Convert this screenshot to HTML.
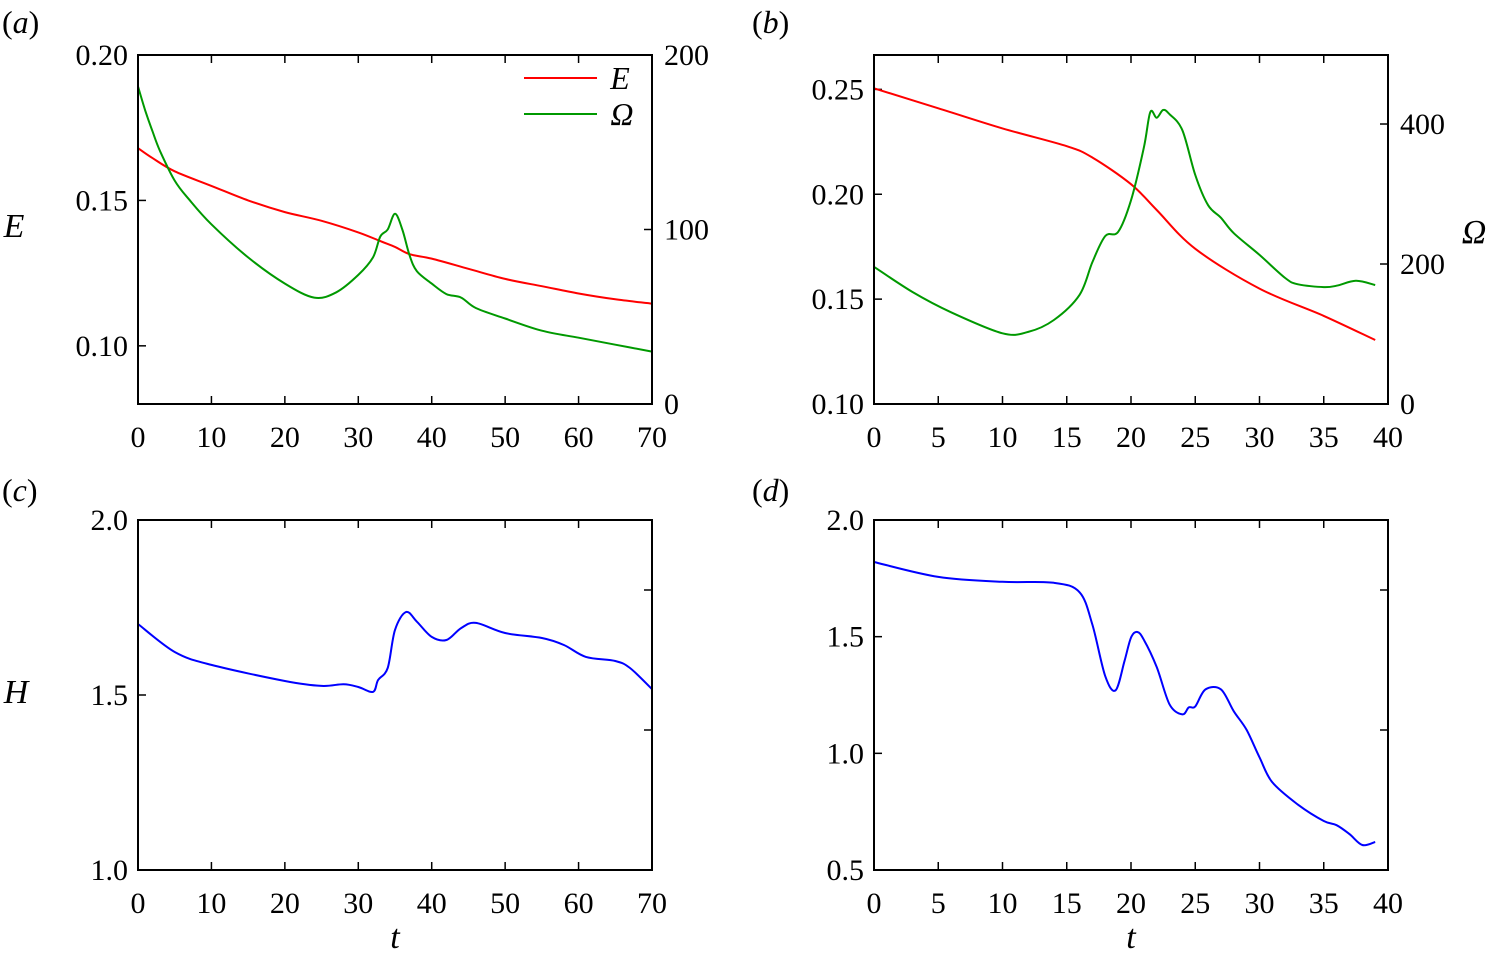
<!DOCTYPE html>
<html><head><meta charset="utf-8"><style>
body{margin:0;background:#fff}
svg{display:block;font-family:"Liberation Serif",serif}
</style></head><body>
<svg id="fig" width="1491" height="961" viewBox="0 0 1491 961" xmlns="http://www.w3.org/2000/svg"></svg>
<script>
const aT=[0,2,5,10,15,20,25,30,33,35,37,40,45,50,55,60,65,70];
const aE=[0.168,0.1645,0.160,0.155,0.150,0.146,0.143,0.139,0.136,0.134,0.1315,0.130,0.1265,0.123,0.1205,0.118,0.116,0.1145];
const aOT=[0,1,2,3,5,7,10,15,20,24,27,30,32,33,34,35,36,37,38,40,42,44,46,50,55,60,65,70];
const aO=[182,168,156,145,128,117,103,84,69,61,64,74,84,96,100,109,100,85,76,69,63,61,55,49,42,38,34,30];
const bT=[0,5,10,15,17,20,22,25,30,35,39];
const bE=[0.2505,0.241,0.2314,0.2229,0.2175,0.2048,0.1925,0.174,0.155,0.142,0.1305];
const bOT=[0,3,6,10,12,14,16,17,18,19,20,21,21.5,22,22.5,23,24,25,26,27,28,30,32,33,35,36,37.5,39];
const bO=[196,160,131,101,103,120,156,203,240,246,291,366,417,409,420,414,391,327,284,266,244,213,180,171,167,169,176,170];
const cT=[0,5,10,20,25,28,30,32,32.7,34,35,36.5,38,40,42,44,46,50,55,58,61,65,67,70];
const cH=[1.703,1.623,1.586,1.54,1.526,1.531,1.523,1.509,1.543,1.577,1.686,1.737,1.709,1.666,1.657,1.691,1.706,1.677,1.663,1.643,1.609,1.597,1.577,1.517];
const dT=[0,5,10,14,16,17,18,18.8,19.5,20,20.5,21,22,23,24,24.5,25,25.8,27,28,29,30,31,33,35,36,37,38,39];
const dH=[1.82,1.756,1.735,1.731,1.69,1.55,1.33,1.27,1.397,1.496,1.52,1.487,1.37,1.21,1.167,1.197,1.201,1.274,1.274,1.18,1.10,0.983,0.876,0.78,0.71,0.692,0.654,0.607,0.62];

const NS="http://www.w3.org/2000/svg";
const svg=document.getElementById('fig');
function mk(tag,attrs,parent){const e=document.createElementNS(NS,tag);for(const k in attrs)e.setAttribute(k,attrs[k]);(parent||svg).appendChild(e);return e;}
function txt(s,x,y,anchor,size,style,parent,name){const e=mk('text',{x:x,y:y,'text-anchor':anchor,'font-size':size,'font-style':style||'normal',fill:'#000'},parent);e.textContent=s;


return e;}
function lin(d0,d1,p0,p1){return v=>p0+(v-d0)*(p1-p0)/(d1-d0);}
function line(xs,ys,sx,sy,color,g,name){
  const P=xs.map((t,i)=>[sx(t),sy(ys[i])]);
  let d='M'+P[0][0].toFixed(1)+','+P[0][1].toFixed(1);
  for(let i=0;i<P.length-1;i++){
    const p0=P[Math.max(0,i-1)],p1=P[i],p2=P[i+1],p3=P[Math.min(P.length-1,i+2)];
    const c1=[p1[0]+(p2[0]-p0[0])/6,p1[1]+(p2[1]-p0[1])/6];
    const c2=[p2[0]-(p3[0]-p1[0])/6,p2[1]-(p3[1]-p1[1])/6];
    d+=' C'+c1.map(v=>v.toFixed(1)).join(',')+' '+c2.map(v=>v.toFixed(1)).join(',')+' '+p2[0].toFixed(1)+','+p2[1].toFixed(1);
  }
  const p=mk('path',{d:d,fill:'none',stroke:color,'stroke-width':2,'stroke-linejoin':'round'},g);
  
  }

function panel(o){
  const g=mk('g',{});
  
  
  const {x0,x1,y0,y1}=o;
  const sx=lin(o.xd[0],o.xd[1],x0,x1);
  const sy=lin(o.yd[0],o.yd[1],y1,y0);
  o.xt.forEach(v=>{const X=sx(v);mk('line',{x1:X,y1:y1,x2:X,y2:y1-8,stroke:'#000','stroke-width':1.5},g);mk('line',{x1:X,y1:y0,x2:X,y2:y0+8,stroke:'#000','stroke-width':1.5},g);txt(String(v),X,y1+43,'middle',30,'normal',g,'x-tick-label');});
  o.yt.forEach((v,i)=>{const Y=sy(v);mk('line',{x1:x0,y1:Y,x2:x0+8,y2:Y,stroke:'#000','stroke-width':1.5},g);txt(o.ytl[i],x0-10,Y+10,'end',30,'normal',g,'y-tick-label');});
  if(o.y2){const sy2=lin(o.y2d[0],o.y2d[1],y1,y0);o.y2t.forEach(v=>{const Y=sy2(v);mk('line',{x1:x1,y1:Y,x2:x1-8,y2:Y,stroke:'#000','stroke-width':1.5},g);txt(String(v),x1+12,Y+10,'start',30,'normal',g,'y2-tick-label');});o.sy2=sy2;}
  if(o.rt){o.rt.forEach(Y=>mk('line',{x1:x1,y1:Y,x2:x1-8,y2:Y,stroke:'#000','stroke-width':1.5},g));}
  o.series.forEach(s=>line(s.x,s.y,sx,s.right?o.sy2:sy,s.c,g,s.name));
  const r=mk('rect',{x:x0,y:y0,width:x1-x0,height:y1-y0,fill:'none',stroke:'#000','stroke-width':2},g);
  
  
  return g;
}
panel({name:'panel-a',x0:138,x1:652,y0:55,y1:404,xd:[0,70],yd:[0.08,0.2],xt:[0,10,20,30,40,50,60,70],yt:[0.1,0.15,0.2],ytl:['0.10','0.15','0.20'],y2:true,y2d:[0,200],y2t:[0,100,200],
  series:[{x:aT,y:aE,c:'#ff0000',name:'e-line-a'},{x:aOT,y:aO,c:'#009900',right:true,name:'omega-line-a'}]});
panel({name:'panel-b',x0:874,x1:1388,y0:55,y1:404,xd:[0,40],yd:[0.1,0.2664],xt:[0,5,10,15,20,25,30,35,40],yt:[0.1,0.15,0.2,0.25],ytl:['0.10','0.15','0.20','0.25'],y2:true,y2d:[0,498.6],y2t:[0,200,400],
  series:[{x:bT,y:bE,c:'#ff0000',name:'e-line-b'},{x:bOT,y:bO,c:'#009900',right:true,name:'omega-line-b'}]});
panel({name:'panel-c',x0:138,x1:652,y0:520,y1:870,xd:[0,70],yd:[1,2],xt:[0,10,20,30,40,50,60,70],yt:[1,1.5,2],ytl:['1.0','1.5','2.0'],rt:[590,730],
  series:[{x:cT,y:cH,c:'#0000ff',name:'h-line-c'}]});
panel({name:'panel-d',x0:874,x1:1388,y0:520,y1:870,xd:[0,40],yd:[0.5,2],xt:[0,5,10,15,20,25,30,35,40],yt:[0.5,1,1.5,2],ytl:['0.5','1.0','1.5','2.0'],rt:[590,730],
  series:[{x:dT,y:dH,c:'#0000ff',name:'h-line-d'}]});
[['a',2,33],['b',752,33],['c',2,501],['d',752,501]].forEach(([l,x,y])=>{const t=mk('text',{x:x,y:y,'font-size':32,fill:'#000'});t.innerHTML='(<tspan font-style="italic">'+l+'</tspan>)';

});
txt('E',14,237,'middle',34,'italic',svg,'y-axis-title-e');
txt('Ω',1474,243,'middle',34,'italic',svg,'y-axis-title-omega');
txt('H',16,703,'middle',34,'italic',svg,'y-axis-title-h-c');
txt('t',395,948,'middle',34,'italic',svg,'x-axis-title-c');
txt('t',1131,948,'middle',34,'italic',svg,'x-axis-title-d');
const lg=mk('g',{});


mk('line',{x1:524,y1:78,x2:597,y2:78,stroke:'#ff0000','stroke-width':2},lg);
txt('E',620,89,'middle',32,'italic',lg,'legend-label-e');
mk('line',{x1:524,y1:114,x2:597,y2:114,stroke:'#009900','stroke-width':2},lg);
txt('Ω',622,125,'middle',32,'italic',lg,'legend-label-omega');
</script>
</body></html>
